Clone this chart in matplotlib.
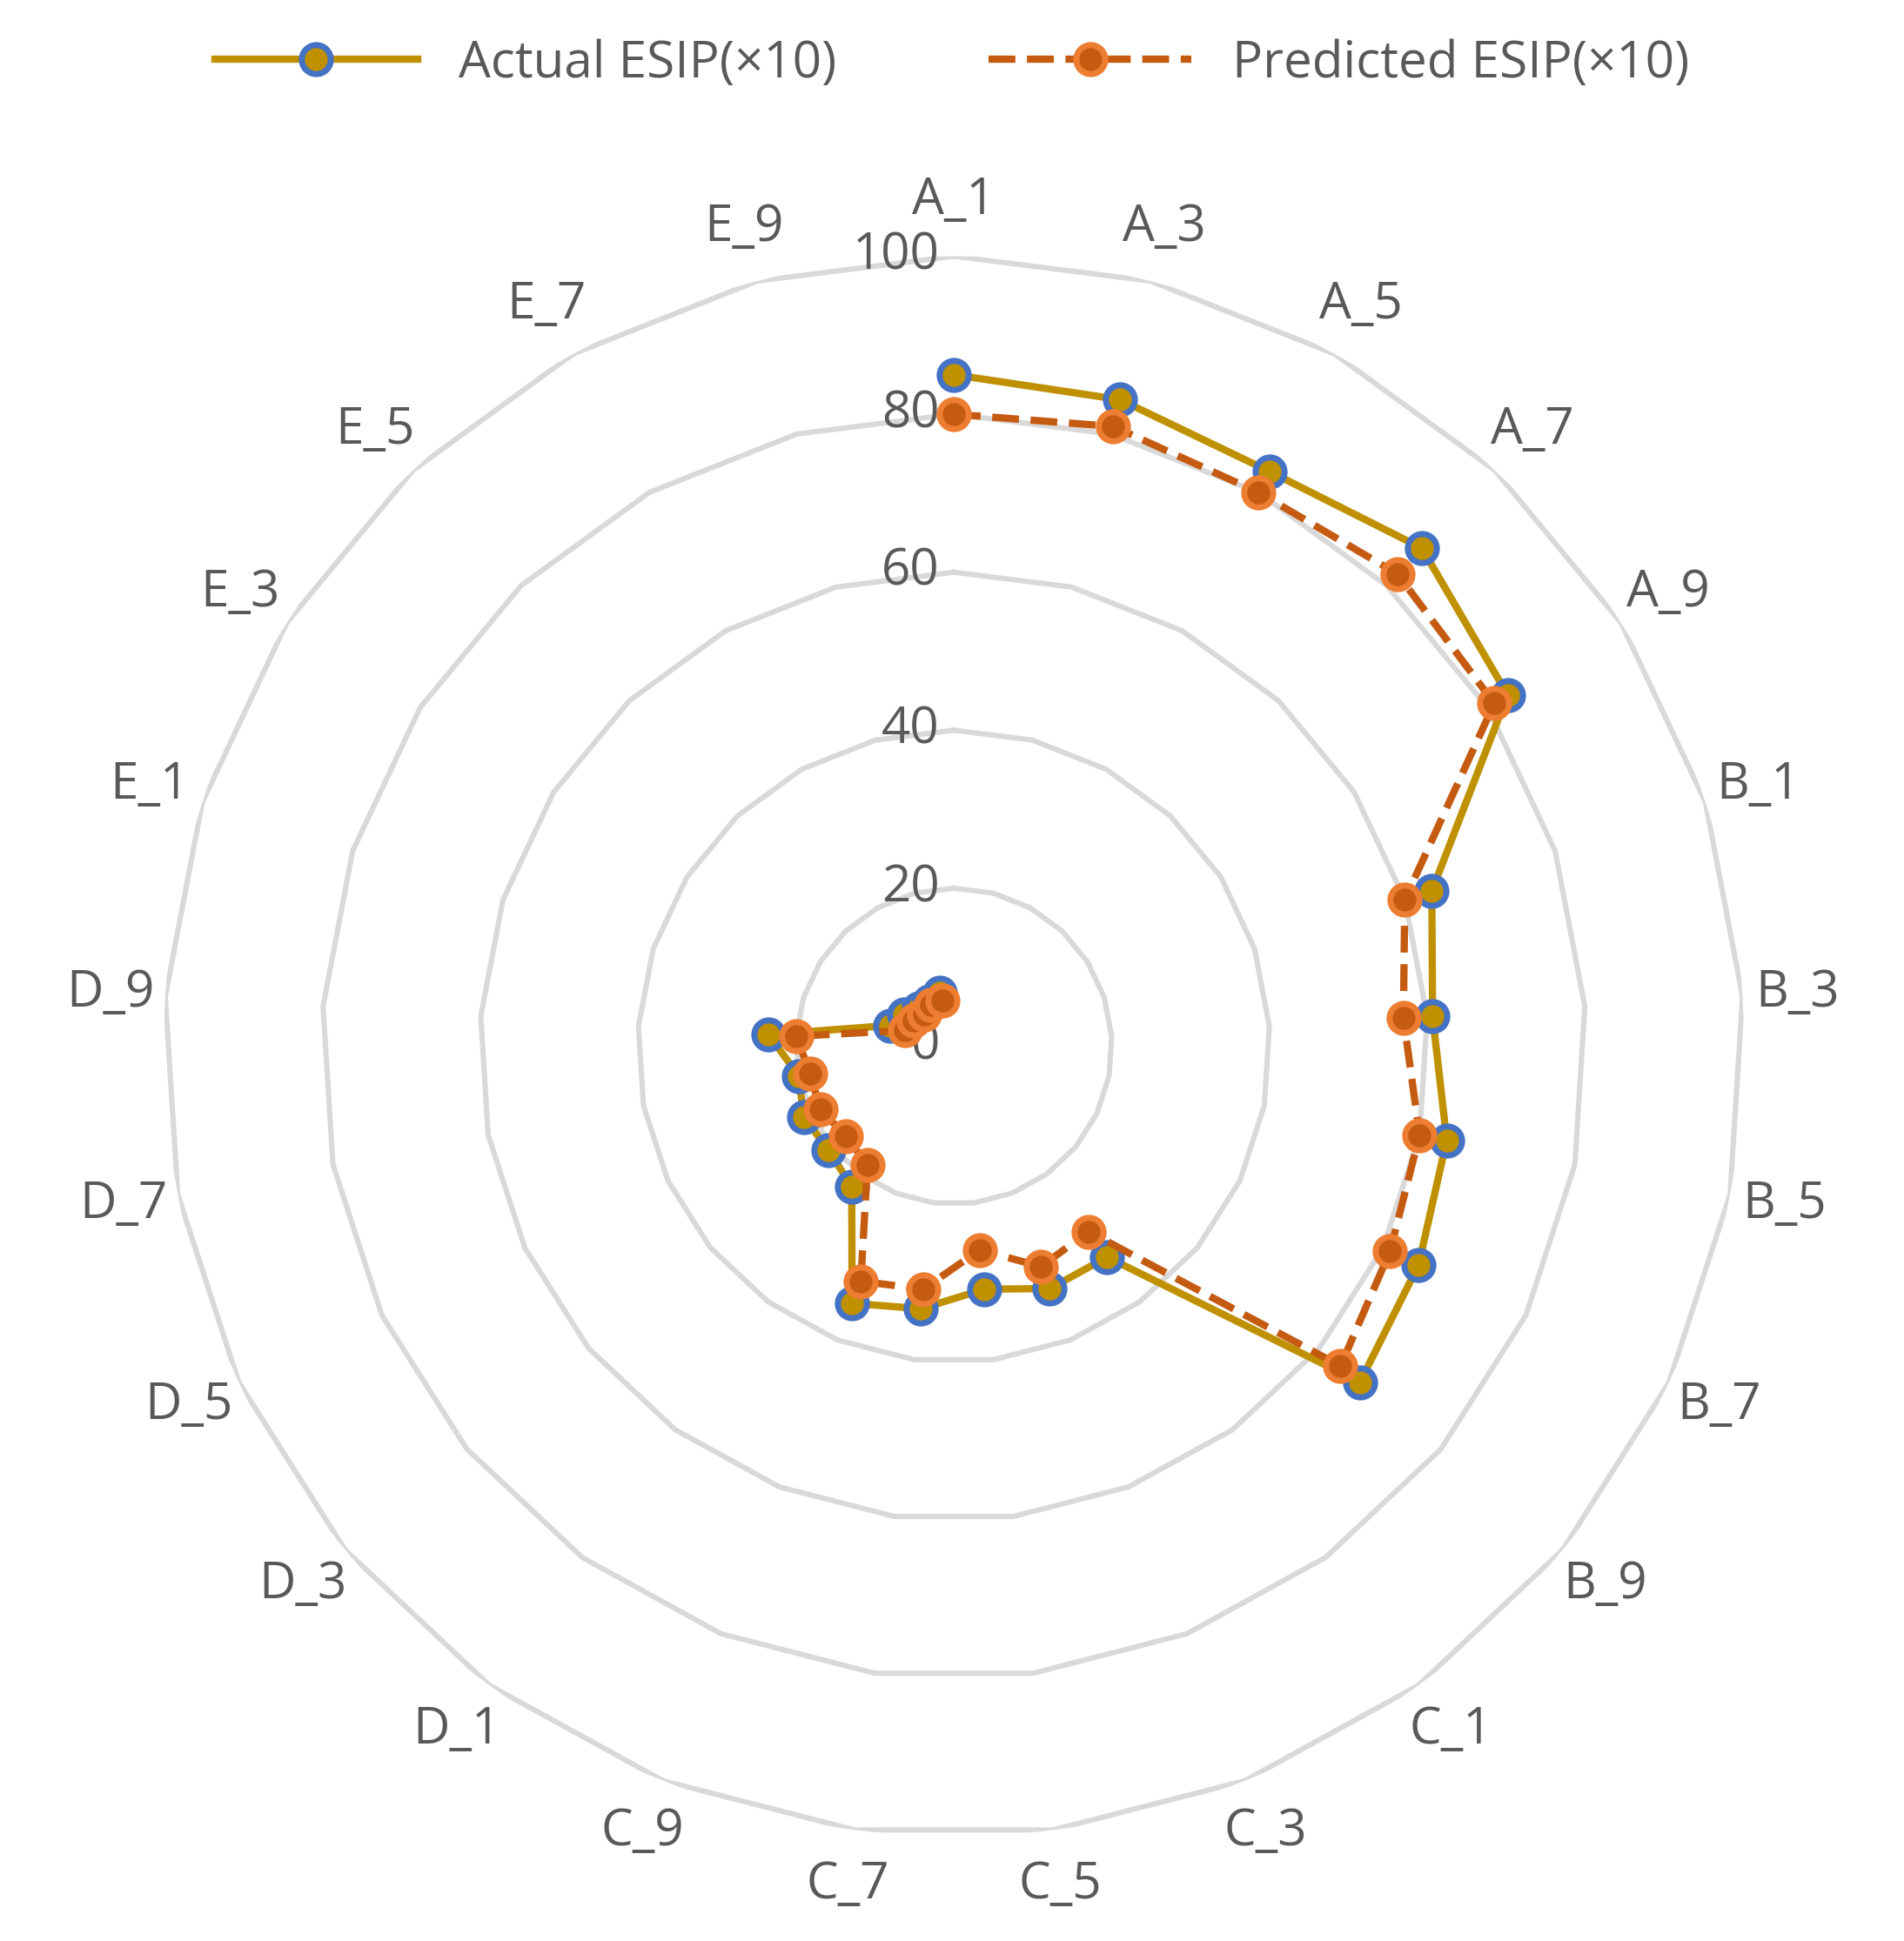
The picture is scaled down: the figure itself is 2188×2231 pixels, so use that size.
import numpy as np
import matplotlib.pyplot as plt

categories = ['A_1', 'A_3', 'A_5', 'A_7', 'A_9', 'B_1', 'B_3', 'B_5', 'B_7', 'B_9',
              'C_1', 'C_3', 'C_5', 'C_7', 'C_9', 'D_1', 'D_3', 'D_5', 'D_7', 'D_9',
              'E_1', 'E_3', 'E_5', 'E_7', 'E_9']
actual = [85, 84.5, 83, 86.5, 83, 63.6, 60.7, 63.5, 65, 66.7,
          33, 33, 31, 33.5, 35, 22, 20.6, 21, 20, 23.5,
          8.5, 7.5, 6.5, 6.5, 7]
predicted = [80, 81, 80, 82, 81, 60, 57, 60, 61, 63.5,
             29, 30, 26, 31, 32, 18.6, 17.8, 18.7, 18.5, 20,
             6.5, 6, 5.5, 6, 6]
ring_levels = [0, 20, 40, 60, 80, 100]

txt = '#595959'
n = len(categories)
theta = np.linspace(0, 2 * np.pi, n, endpoint=False)
closed = np.append(theta, theta[0])

fig = plt.figure(figsize=(10.94, 11.155), dpi=200)
ax = fig.add_axes([0.086, 0.054, 0.83, 0.814], projection='polar')
ax.set_theta_zero_location('N')
ax.set_theta_direction(-1)
ax.set_ylim(0, 100)
ax.grid(False)
ax.spines['polar'].set_visible(False)
ax.set_xticks([])
ax.set_yticks([])

for lv in ring_levels[1:]:
    ax.plot(closed, [lv] * (n + 1), color='#d9d9d9', lw=2.2, zorder=1)
for lv in ring_levels:
    ax.annotate(str(lv), (0, lv), xytext=(-6, 0), textcoords='offset points',
                ha='right', va='center', fontsize=21, color=txt, family='Open Sans')
for t, c in zip(theta, categories):
    ax.text(t, 107, c, ha='center', va='center', fontsize=21, color=txt, family='Open Sans')

ax.plot(theta, actual, color='#bf9000', lw=3, marker='o', ms=12,
        mfc='#bf9000', mec='#4472c4', mew=2.5, label='Actual ESIP(×10)', zorder=3)
ax.plot(theta, predicted, color='#c55a11', lw=3, ls='--', marker='o', ms=12,
        mfc='#c55a11', mec='#ed7d31', mew=2.5, label='Predicted ESIP(×10)', zorder=4)

fig.legend(loc='center', bbox_to_anchor=(0.5, 0.967), ncol=2, frameon=False,
           prop={'family': 'Open Sans', 'size': 21}, labelcolor=txt,
           handlelength=4, columnspacing=3)
fig.savefig('out.png', dpi=200)
